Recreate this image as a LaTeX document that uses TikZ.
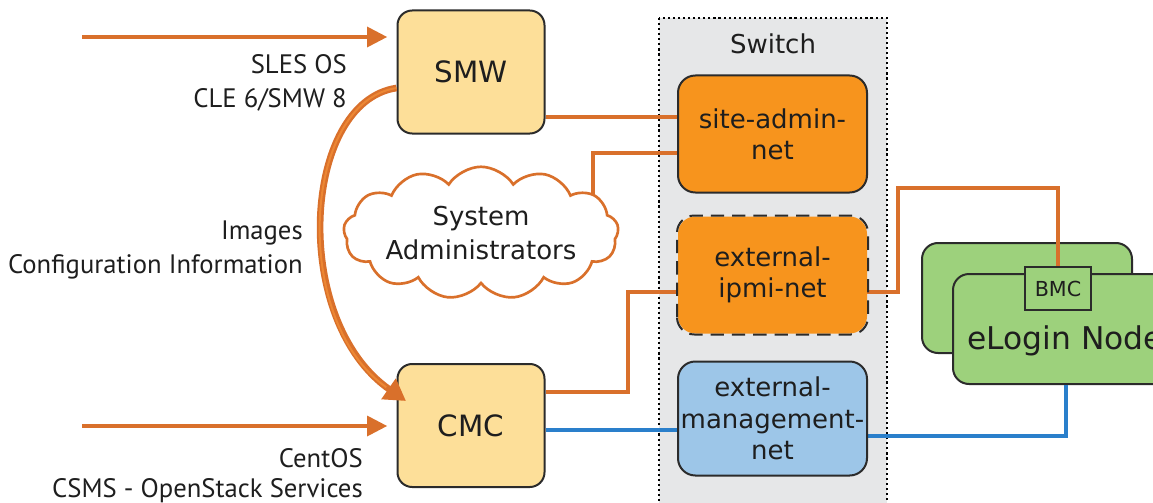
\documentclass[tikz,border=0pt]{standalone}
\usepackage{fontspec}
\setmainfont{DejaVu Sans}
\newfontfamily\labelfont{PT Sans}
\usetikzlibrary{arrows.meta,shapes.symbols,calc}

\definecolor{lineorange}{HTML}{D9702B}
\definecolor{boxorange}{HTML}{F7941D}
\definecolor{lightorange}{HTML}{EC8734}
\definecolor{paleyellow}{HTML}{FDDF99}
\definecolor{paleblue}{HTML}{9DC6E8}
\definecolor{nodegreen}{HTML}{9DD17C}
\definecolor{lineblue}{HTML}{2A7FCB}
\definecolor{switchgrey}{HTML}{E6E7E8}
\definecolor{edgegrey}{HTML}{2B2B2B}
\definecolor{textgrey}{HTML}{1E1E1E}

\tikzset{
  hostbox/.style={draw=edgegrey, line width=1.5pt, rounded corners=11pt,
    fill=paleyellow, minimum width=147*0.75pt, minimum height=123*0.75pt,
    font=\fontsize{22}{26}\selectfont, text=textgrey},
  netbox/.style={draw=edgegrey, line width=1.5pt, rounded corners=13pt,
    minimum width=189*0.75pt, minimum height=117*0.75pt, inner xsep=0pt,
    align=center, font=\fontsize{19.5}{23.5}\selectfont, text=textgrey},
  greenbox/.style={draw=edgegrey, line width=1.5pt, rounded corners=12pt,
    fill=nodegreen},
  sidelabel/.style={anchor=base east, inner sep=0pt, text=textgrey,
    font=\labelfont\fontsize{20}{23}\selectfont},
  oline/.style={draw=lineorange, line width=2.3pt},
  bline/.style={draw=lineblue, line width=2.3pt},
  feed/.style={draw=lineorange, line width=2.3pt,
    -{Triangle[length=15pt,width=15pt]}, shorten >=7pt},
}

\begin{document}
\begin{tikzpicture}[x=0.75pt,y=-0.75pt]
\useasboundingbox (0,0) rectangle (1153,503);
\clip (0,0) rectangle (1153,503);

% switch enclosure
\draw[fill=switchgrey, dash pattern=on 1.6pt off 2.2pt, line width=1.4pt, draw=black]
  (659,18) rectangle (887,520);
\node[font=\fontsize{19.5}{23}\selectfont, text=textgrey] (switchlbl) at (773,44) {Switch};

% hosts
\node[hostbox] (smw) at (471,72) {SMW};
\node[hostbox] (cmc) at (471,425.5) {CMC};

% eLogin nodes with BMC
\node[greenbox, minimum width=210*0.75pt, minimum height=110*0.75pt] (back) at (1027,298) {};
\node[greenbox, minimum width=222*0.75pt, minimum height=110*0.75pt] (front) at (1064,329) {};
\node[draw=edgegrey, line width=1.5pt, fill=nodegreen, minimum width=66*0.75pt,
  minimum height=43*0.75pt, inner sep=0pt, font=\fontsize{15.5}{18}\selectfont,
  text=textgrey] (bmc) at (1058,288.5) {BMC};
\node[font=\fontsize{23.5}{27}\selectfont, text=textgrey, anchor=base west, inner sep=0pt]
  (elogin) at (967,349) {eLogin Node};

% network links
\coordinate (cloudtop) at (593,215);
\draw[oline] (smw.east |- 0,117) -- (678,117);
\draw[oline] (678,153) -| (cloudtop);
\draw[oline] (cmc.east |- 0,392) -- (628,392) |- (678,292);
\draw[oline] (866,292) -- (898,292) |- (bmc.north |- 0,188) -- (bmc.north);
\draw[bline] (cmc.east |- 0,430) -- (678,430);
\draw[bline] (866,436) -| (front.south -| 1066,0);

% switch ports
\node[netbox, fill=boxorange] (site) at (772.5,134) {site-admin-\\net};
\node[netbox, fill=boxorange, draw=none] (ipmi) at (772.5,275) {external-\\ipmi-net};
\draw[edgegrey, line width=1.5pt, dash pattern=on 10pt off 6pt, rounded corners=13pt]
  (ipmi.south west) rectangle (ipmi.north east);
\node[netbox, fill=paleblue, minimum height=114*0.75pt] (mgmt) at (772.5,418.5)
  {external-\\management-\\net};

% administrators
\node[cloud, cloud puffs=13, cloud puff arc=115, aspect=2.7, draw=lineorange,
  line width=2pt, fill=white, minimum width=262*0.75pt, minimum height=98*0.75pt,
  inner sep=0pt, align=center, font=\fontsize{19.5}{25}\selectfont, text=textgrey]
  (admins) at (481,233) {System\\Administrators};

% software feeds
\coordinate (smwfeed) at (82,37);
\coordinate (cmcfeed) at (82,426);
\draw[feed] (smwfeed) -- (smw.west |- smwfeed);
\draw[feed] (cmcfeed) -- (cmc.west |- cmcfeed);

% image transfer from SMW to CMC
\coordinate (xferend) at (406,401);
\draw[draw=lineorange, line width=5pt, -{Triangle[length=16pt,width=18pt]}]
  (smw.west |- 0,88) .. controls (302,102) and (290,320) .. (xferend);
\draw[draw=lightorange, line width=1.5pt, shorten >=18pt]
  (smw.west |- 0,88) .. controls (302,102) and (290,320) .. (xferend);

% labels
\node[sidelabel] (sles) at (347,74) {SLES OS};
\node[sidelabel] (cle) at (347,108) {CLE 6/SMW 8};
\node[sidelabel] (img) at (303,239) {Images};
\node[sidelabel] (conf) at (303,273) {Configuration Information};
\node[sidelabel] (centos) at (363,467) {CentOS};
\node[sidelabel] (csms) at (363,497) {CSMS - OpenStack Services};
\end{tikzpicture}
\end{document}
